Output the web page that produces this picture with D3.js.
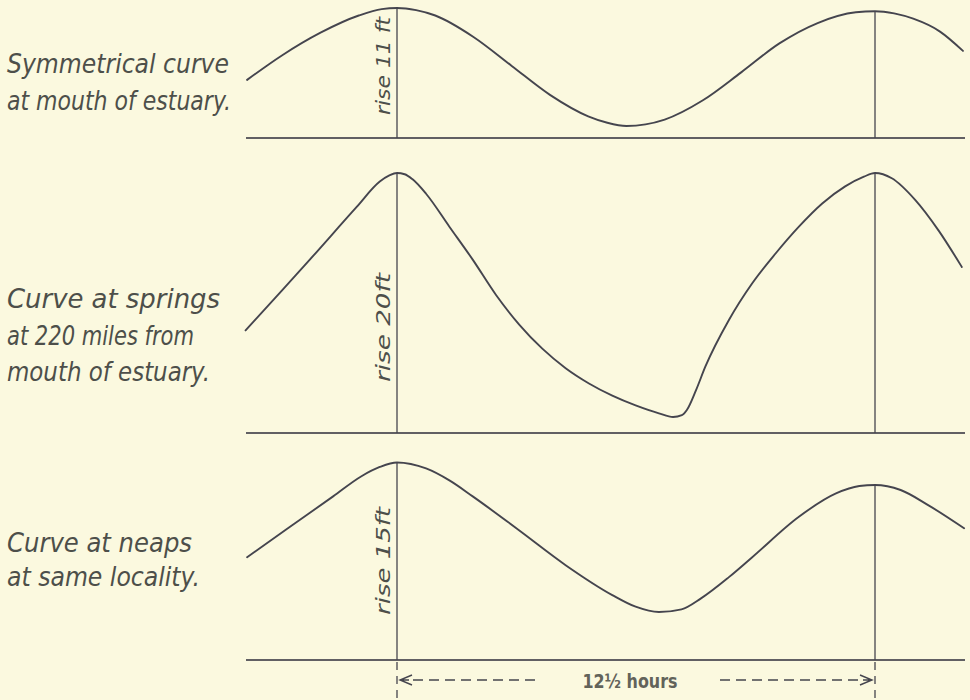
<!DOCTYPE html>
<html>
<head>
<meta charset="utf-8">
<script src="https://cdn.jsdelivr.net/npm/d3@7"></script>
<style>
  html, body { margin: 0; padding: 0; background: #fbf9df; }
  svg { display: block; }
</style>
</head>
<body>
<svg id="chart" width="970" height="700"></svg>
<script>
// ---- data (hours after high water, feet above low water) ----
const tidePeriod = 12.5;
const hoursLabel = "12\u00BD hours";

const symmetricalHours = [-3.92, -3, -2, -1, -0.4, 0, 0.5, 1, 2, 3, 4, 5, 5.5, 6, 6.5, 7, 8, 9, 10, 11, 12, 12.5, 13, 13.5, 14.2, 14.8];
const symmetricalFeet  = [4.3, 6.6, 8.7, 10.3, 10.9, 11, 10.8, 10.3, 8.3, 5.6, 2.9, 0.9, 0.3, 0, 0.15, 0.6, 2.4, 5.0, 7.7, 9.6, 10.6, 10.7, 10.5, 10.0, 8.8, 7.0];

const springsHours = [-3.96, -3, -2.28, -1.06, -0.45, -0.2, 0, 0.2, 0.4, 0.76, 1.37, 1.98, 2.59, 3.19, 3.8, 4.41, 5.02, 5.63, 6.24, 6.85, 7.22, 7.45, 7.58, 7.82, 8.06, 8.68, 9.29, 9.9, 10.51, 11.12, 11.72, 12.21, 12.5, 12.94, 13.55, 14.16, 14.77];
const springsFeet  = [7.1, 10.4, 12.9, 17.2, 19.3, 19.8, 20, 19.9, 19.5, 18.3, 15.6, 12.9, 10.0, 7.6, 5.6, 4.0, 2.75, 1.75, 0.95, 0.3, 0, 0.15, 0.57, 2.2, 4.1, 7.95, 10.96, 13.4, 15.6, 17.5, 18.9, 19.7, 20, 19.57, 17.8, 15.3, 12.3];

const neapsHours = [-3.92, -2.89, -1.67, -0.94, -0.45, 0, 0.76, 1.37, 1.98, 3.19, 4.41, 5.63, 6.24, 6.85, 7.44, 7.95, 8.68, 9.29, 10.51, 11.48, 12.09, 12.5, 13.17, 13.9, 14.83];
const neapsFeet  = [5.49, 8.3, 11.6, 13.6, 14.55, 15, 14.4, 13.2, 11.6, 8.2, 4.7, 1.7, 0.53, 0, 0.27, 1.37, 3.5, 5.5, 9.56, 11.9, 12.64, 12.74, 12.24, 10.7, 8.4];

const panelLabels = [
  ["Symmetrical curve", "at mouth of estuary."],
  ["Curve at springs", "at 220 miles from", "mouth of estuary."],
  ["Curve at neaps", "at same locality."]
];
const riseLabels = ["rise 11 ft", "rise 20ft", "rise 15ft"];
const riseFeet = [11, 20, 15];

// ---- layout ----
const svg = d3.select("#chart");
const ink = "#45454e";
const textInk = "#4d4f4a";
const bg = "#fbf9df";
svg.append("rect").attr("width", 970).attr("height", 700).attr("fill", bg);

const x = d3.scaleLinear().domain([0, tidePeriod]).range([397, 875]);
const xStart = 246, xEnd = 965;

const panels = [
  { hours: symmetricalHours, feet: symmetricalFeet, trough: 126, peak: 8, base: 138,
    labelY: [73, 110], labelW: [222, 224], riseY: 115, riseLen: 98 },
  { hours: springsHours, feet: springsFeet, trough: 417, peak: 173, base: 433,
    labelY: [308, 345, 381], labelW: [213, 187, 203], riseY: 382, riseLen: 109 },
  { hours: neapsHours, feet: neapsFeet, trough: 612, peak: 462.5, base: 660,
    labelY: [552, 586], labelW: [185, 193], riseY: 615, riseLen: 108 }
];

panels.forEach((p, i) => {
  const y = d3.scaleLinear().domain([0, riseFeet[i]]).range([p.trough, p.peak]);
  const pts = p.hours.map((h, k) => [h, p.feet[k]]);
  const g = svg.append("g");

  // baseline
  g.append("line")
    .attr("x1", xStart).attr("x2", xEnd)
    .attr("y1", p.base).attr("y2", p.base)
    .attr("stroke", ink).attr("stroke-width", 2.2).attr("stroke-opacity", 0.85);

  // high-water verticals
  [0, tidePeriod].forEach(h => {
    const k = p.hours.indexOf(h);
    g.append("line")
      .attr("x1", x(h)).attr("x2", x(h))
      .attr("y1", y(p.feet[k])).attr("y2", p.base)
      .attr("stroke", ink).attr("stroke-width", 1.3);
  });

  // curve
  const line = d3.line()
    .x(d => x(d[0])).y(d => y(d[1]))
    .curve(d3.curveMonotoneX);
  g.append("path").datum(pts)
    .attr("d", line)
    .attr("fill", "none").attr("stroke", ink)
    .attr("stroke-width", 1.9).attr("stroke-linejoin", "round").attr("stroke-linecap", "round");

  // rise label (rotated)
  g.append("text")
    .attr("transform", `translate(390,${p.riseY}) rotate(-90)`)
    .attr("font-family", "'DejaVu Sans', sans-serif")
    .attr("font-style", "italic")
    .attr("font-size", 20)
    .attr("fill", textInk)
    .attr("textLength", p.riseLen).attr("lengthAdjust", "spacingAndGlyphs")
    .text(riseLabels[i]);

  // left description
  panelLabels[i].forEach((t, j) => {
    g.append("text")
      .attr("x", 7).attr("y", p.labelY[j])
      .attr("font-family", "'DejaVu Sans Condensed', 'DejaVu Sans', sans-serif")
      .attr("font-style", "italic")
      .attr("font-size", 27)
      .attr("fill", textInk)
      .attr("textLength", p.labelW[j]).attr("lengthAdjust", "spacingAndGlyphs")
      .text(t);
  });
});

// ---- dimension line under last panel ----
const dimY = 680;
const dim = svg.append("g").attr("stroke", ink).attr("fill", "none");
[0, tidePeriod].forEach(h => {
  dim.append("line")
    .attr("x1", x(h)).attr("x2", x(h))
    .attr("y1", 662).attr("y2", 700)
    .attr("stroke-width", 1.3).attr("stroke-dasharray", "8,6");
});
dim.append("line")
  .attr("x1", x(0) + 16).attr("x2", 535)
  .attr("y1", dimY).attr("y2", dimY)
  .attr("stroke-width", 1.5).attr("stroke-dasharray", "10,6");
dim.append("line")
  .attr("x1", 720).attr("x2", x(tidePeriod) - 14)
  .attr("y1", dimY).attr("y2", dimY)
  .attr("stroke-width", 1.5).attr("stroke-dasharray", "10,6");
dim.append("path")
  .attr("d", `M${x(0) + 15},${dimY - 5} L${x(0) + 3},${dimY} L${x(0) + 15},${dimY + 5} M${x(0) + 3},${dimY} L${x(0) + 12},${dimY}`)
  .attr("stroke-width", 1.4);
dim.append("path")
  .attr("d", `M${x(tidePeriod) - 15},${dimY - 5} L${x(tidePeriod) - 3},${dimY} L${x(tidePeriod) - 15},${dimY + 5} M${x(tidePeriod) - 3},${dimY} L${x(tidePeriod) - 12},${dimY}`)
  .attr("stroke-width", 1.4);

svg.append("text")
  .attr("x", 630).attr("y", 688)
  .attr("text-anchor", "middle")
  .attr("font-family", "'DejaVu Sans Condensed', 'DejaVu Sans', sans-serif")
  .attr("font-weight", "bold")
  .attr("font-size", 20)
  .attr("fill", "#62635a")
  .attr("textLength", 95).attr("lengthAdjust", "spacingAndGlyphs")
  .text(hoursLabel);
</script>
</body>
</html>
